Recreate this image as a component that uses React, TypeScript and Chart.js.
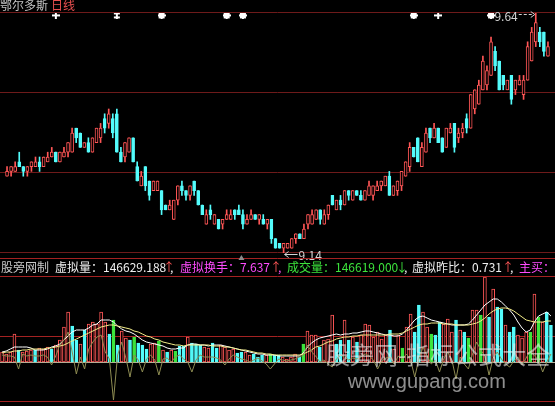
import React, { useEffect, useRef } from "react";
import { Chart, registerables } from "chart.js";

Chart.register(...registerables);

// ---- 鄂尔多斯 daily prices ----
const opens = [
  9.30, 9.31, 9.31, 9.33, 9.32, 9.31, 9.32, 9.32, 9.33, 9.32,
  9.33, 9.34, 9.35, 9.33, 9.34, 9.35, 9.35, 9.40, 9.39, 9.36,
  9.37, 9.35, 9.37, 9.38, 9.42, 9.41, 9.42, 9.43, 9.35, 9.34,
  9.35, 9.38, 9.32, 9.28, 9.32, 9.29, 9.27, 9.27, 9.27, 9.24,
  9.23, 9.21, 9.25, 9.28, 9.27, 9.26, 9.29, 9.27, 9.24, 9.20,
  9.23, 9.20, 9.21, 9.20, 9.21, 9.21, 9.23, 9.23, 9.22, 9.20,
  9.21, 9.22, 9.21, 9.21, 9.20, 9.21, 9.17, 9.16, 9.15, 9.15,
  9.15, 9.17, 9.18, 9.17, 9.20, 9.20, 9.21, 9.23, 9.20, 9.22,
  9.26, 9.23, 9.25, 9.24, 9.27, 9.25, 9.27, 9.26, 9.25, 9.26,
  9.26, 9.27, 9.28, 9.28, 9.30, 9.26, 9.27, 9.28, 9.30, 9.32,
  9.36, 9.38, 9.32, 9.35, 9.40, 9.38, 9.40, 9.38, 9.36, 9.39,
  9.41, 9.38, 9.39, 9.42, 9.40, 9.44, 9.45, 9.48, 9.49, 9.51,
  9.56, 9.54, 9.51, 9.48, 9.51, 9.48, 9.49, 9.47, 9.50, 9.54,
  9.58, 9.60, 9.60, 9.55,
];
const highs = [
  9.32, 9.32, 9.33, 9.35, 9.32, 9.32, 9.33, 9.34, 9.34, 9.34,
  9.35, 9.36, 9.35, 9.35, 9.36, 9.37, 9.40, 9.40, 9.39, 9.37,
  9.38, 9.38, 9.40, 9.41, 9.43, 9.44, 9.43, 9.44, 9.36, 9.37,
  9.38, 9.38, 9.33, 9.31, 9.32, 9.29, 9.29, 9.29, 9.27, 9.24,
  9.25, 9.25, 9.28, 9.29, 9.27, 9.28, 9.29, 9.27, 9.24, 9.23,
  9.24, 9.22, 9.21, 9.21, 9.23, 9.23, 9.23, 9.24, 9.23, 9.22,
  9.23, 9.22, 9.22, 9.22, 9.21, 9.21, 9.17, 9.16, 9.16, 9.16,
  9.17, 9.18, 9.18, 9.20, 9.22, 9.23, 9.23, 9.23, 9.23, 9.24,
  9.26, 9.25, 9.26, 9.27, 9.27, 9.27, 9.27, 9.27, 9.27, 9.29,
  9.28, 9.29, 9.29, 9.30, 9.31, 9.28, 9.29, 9.31, 9.33, 9.37,
  9.36, 9.38, 9.37, 9.40, 9.40, 9.41, 9.40, 9.38, 9.40, 9.41,
  9.41, 9.40, 9.41, 9.43, 9.47, 9.48, 9.50, 9.55, 9.53, 9.59,
  9.57, 9.54, 9.51, 9.50, 9.51, 9.50, 9.51, 9.51, 9.58, 9.61,
  9.64, 9.61, 9.60, 9.58,
];
const lows = [
  9.30, 9.30, 9.31, 9.32, 9.30, 9.30, 9.31, 9.32, 9.31, 9.32,
  9.33, 9.34, 9.33, 9.33, 9.34, 9.34, 9.35, 9.37, 9.36, 9.36,
  9.35, 9.35, 9.37, 9.37, 9.39, 9.40, 9.38, 9.35, 9.33, 9.33,
  9.35, 9.33, 9.29, 9.28, 9.27, 9.25, 9.27, 9.27, 9.22, 9.23,
  9.23, 9.21, 9.24, 9.26, 9.25, 9.25, 9.26, 9.24, 9.22, 9.20,
  9.21, 9.20, 9.19, 9.19, 9.21, 9.21, 9.21, 9.22, 9.19, 9.20,
  9.21, 9.21, 9.20, 9.20, 9.19, 9.16, 9.15, 9.15, 9.14, 9.15,
  9.15, 9.16, 9.17, 9.17, 9.19, 9.20, 9.21, 9.20, 9.20, 9.21,
  9.24, 9.23, 9.23, 9.24, 9.25, 9.25, 9.26, 9.25, 9.25, 9.26,
  9.25, 9.27, 9.27, 9.28, 9.26, 9.26, 9.26, 9.27, 9.30, 9.31,
  9.34, 9.33, 9.32, 9.35, 9.37, 9.38, 9.37, 9.35, 9.36, 9.39,
  9.35, 9.37, 9.38, 9.39, 9.40, 9.43, 9.45, 9.48, 9.48, 9.51,
  9.52, 9.48, 9.48, 9.48, 9.45, 9.47, 9.49, 9.46, 9.50, 9.54,
  9.57, 9.57, 9.55, 9.55,
];
const closes = [
  9.31, 9.32, 9.32, 9.32, 9.31, 9.32, 9.33, 9.33, 9.32, 9.34,
  9.34, 9.35, 9.33, 9.35, 9.35, 9.37, 9.39, 9.38, 9.36, 9.37,
  9.35, 9.38, 9.40, 9.40, 9.40, 9.43, 9.39, 9.35, 9.33, 9.37,
  9.38, 9.33, 9.29, 9.30, 9.28, 9.26, 9.29, 9.29, 9.23, 9.23,
  9.24, 9.25, 9.28, 9.27, 9.26, 9.28, 9.27, 9.24, 9.22, 9.22,
  9.22, 9.22, 9.19, 9.21, 9.22, 9.22, 9.22, 9.22, 9.20, 9.21,
  9.22, 9.21, 9.22, 9.20, 9.21, 9.17, 9.15, 9.15, 9.16, 9.16,
  9.17, 9.18, 9.17, 9.19, 9.22, 9.22, 9.23, 9.21, 9.22, 9.24,
  9.24, 9.25, 9.24, 9.27, 9.26, 9.27, 9.26, 9.25, 9.27, 9.28,
  9.28, 9.28, 9.29, 9.30, 9.26, 9.28, 9.29, 9.31, 9.33, 9.36,
  9.34, 9.33, 9.36, 9.39, 9.38, 9.40, 9.37, 9.35, 9.40, 9.40,
  9.36, 9.39, 9.40, 9.40, 9.47, 9.48, 9.49, 9.54, 9.52, 9.58,
  9.53, 9.48, 9.49, 9.50, 9.46, 9.50, 9.50, 9.50, 9.57, 9.60,
  9.62, 9.58, 9.56, 9.57,
];

const stockName = "鄂尔多斯";
const periodName = "日线";

// signal marks along the top of the price panel
const signalDays = [12, 27, 38, 54, 58, 100, 106, 119];
const signalKinds = ["plus", "bars", "star", "star", "star", "star", "plus", "star"];
const signalLevel = 9.635;
const cursorDay = 58;

// ---- indicator panel, thousands of lots ----
const virtualVolume = [
  40, 32, 40, 112, 48, 40, 44, 48, 48, 56,
  52, 60, 52, 68, 88, 140, 200, 144, 88, 72,
  128, 152, 160, 152, 200, 160, 112, 168, 68, 124,
  96, 88, 100, 76, 68, 52, 72, 76, 84, 48,
  40, 48, 44, 64, 64, 100, 76, 72, 68, 60,
  56, 76, 56, 68, 60, 48, 52, 36, 40, 40,
  28, 32, 20, 28, 28, 32, 28, 28, 20, 12,
  20, 32, 20, 72, 124, 108, 108, 60, 88, 92,
  188, 72, 88, 168, 88, 100, 80, 108, 152, 148,
  100, 120, 92, 108, 128, 52, 108, 56, 140, 192,
  120, 228, 200, 140, 112, 108, 160, 152, 172, 120,
  168, 128, 120, 96, 208, 208, 188, 340, 180, 292,
  220, 212, 148, 120, 140, 108, 96, 120, 120, 272,
  180, 160, 200, 146.629188,
];
// r = up (hollow red), c = down (cyan), g = green
const barKinds =
  "rrrrcrrrcr" + "rrcrrrrccr" + "crrrrrcgcr" + "rcgcccrrgr" + "crgccrcccr" +
  "rccrrrrccr" + "rcccrgccrr" + "rrcgrrrcrr" + "rccrcrcrrr" + "rrrrcrrgrr" +
  "ccrrgccrrr" + "crcgrrgrcr" + "ccrccrrrgr" + "grcc";
const fastAvg = [
  40, 44, 52, 60, 60, 60, 60, 56, 48, 48,
  48, 52, 60, 64, 72, 88, 104, 120, 128, 128,
  128, 136, 148, 152, 168, 168, 168, 160, 144, 132,
  124, 120, 112, 100, 88, 80, 76, 72, 68, 64,
  56, 52, 52, 56, 56, 68, 72, 72, 68, 68,
  64, 68, 68, 68, 64, 60, 56, 52, 48, 44,
  40, 36, 32, 32, 28, 28, 28, 24, 24, 24,
  24, 24, 24, 36, 60, 76, 88, 96, 100, 104,
  108, 112, 108, 112, 112, 116, 116, 120, 124, 124,
  120, 116, 112, 108, 108, 104, 104, 112, 128, 148,
  168, 180, 184, 176, 168, 164, 160, 156, 152, 148,
  148, 148, 148, 152, 168, 188, 208, 228, 240, 252,
  252, 240, 224, 208, 188, 160, 136, 120, 128, 160,
  184, 192, 200, 184,
];
const slowAvg = [
  36, 40, 40, 44, 44, 48, 48, 52, 52, 52,
  52, 56, 56, 60, 64, 68, 76, 84, 92, 100,
  108, 116, 124, 132, 140, 144, 148, 148, 144, 140,
  136, 132, 124, 120, 112, 104, 100, 92, 88, 80,
  76, 72, 68, 68, 64, 68, 68, 68, 68, 68,
  68, 64, 64, 64, 60, 60, 56, 52, 48, 48,
  44, 40, 36, 36, 32, 32, 28, 28, 28, 28,
  28, 28, 28, 32, 40, 48, 60, 64, 72, 80,
  84, 92, 96, 100, 100, 104, 104, 108, 108, 108,
  108, 108, 108, 108, 112, 112, 112, 116, 124, 132,
  140, 148, 152, 152, 156, 156, 156, 152, 152, 152,
  148, 148, 148, 148, 152, 156, 164, 176, 192, 204,
  212, 216, 216, 212, 204, 192, 180, 168, 164, 160,
  160, 160, 164, 164,
];
const mainBuy = [
  28, 24, 24, 20, -28, 32, 24, 28, 24, 24,
  28, 20, -12, 24, 68, 88, 120, 40, -48, 20,
  -28, 52, 80, 100, 108, 40, 12, -152, 28, 80,
  16, -60, 28, 8, -40, 12, 28, 8, -52, 12,
  16, 0, 20, 28, 12, 0, -40, 8, 28, 20,
  20, 20, 16, 8, -12, 12, 28, 20, 12, 8,
  0, 8, 16, 4, -8, -28, -8, 12, 8, 4,
  8, 12, 20, 28, 68, 40, 24, 0, 8, -8,
  -20, 12, 28, 20, 8, 16, 12, 20, 32, 24,
  8, -28, 4, 16, 20, -8, 24, 12, 32, 8,
  -60, 12, 60, 24, -8, 8, -40, 12, 40, 8,
  -68, 20, -8, -28, 32, 80, 48, 24, -52, 16,
  40, 12, -8, -20, 4, 20, -12, 16, 48, 24,
  8, -40, 0, 32,
];
const indicatorMin = -160;
const indicatorMax = 340;
const indicatorGrid = [-160, 100, 340];

const turnoverText = "7.637";
const tradeVolumeText = "146619.000";
const prevRatioText = "0.731";

const RED = "#ff5656";
const CYAN = "#54fcfc";
const GREEN = "#3ce43c";
const MAGENTA = "#ff4cff";
const WHITE = "#f0f0f0";
const CJK = "'Noto Sans CJK SC', 'Noto Sans', sans-serif";

const labels = opens.map((_, i) => String(i));

function markerImage(kind: string): HTMLCanvasElement {
  const c = document.createElement("canvas");
  c.width = 8;
  c.height = 8;
  const g = c.getContext("2d")!;
  g.fillStyle = "#ffffff";
  if (kind === "plus") {
    g.fillRect(3, 0, 2, 8);
    g.fillRect(0, 3, 8, 2);
  } else if (kind === "bars") {
    g.fillRect(3, 0, 2, 8);
    g.fillRect(1, 1, 6, 2);
    g.fillRect(1, 5, 6, 2);
  } else {
    g.fillRect(1, 1, 6, 6);
    g.fillRect(3, 0, 2, 8);
    g.fillRect(0, 3, 8, 2);
  }
  return c;
}

function hLine(ctx: CanvasRenderingContext2D, y: number, w: number) {
  ctx.beginPath();
  ctx.moveTo(0, y);
  ctx.lineTo(w, y);
  ctx.stroke();
}

const pricePanel = {
  id: "pricePanel",
  beforeDatasetsDraw(chart: any) {
    const { ctx, scales } = chart;
    const y = scales.y;
    ctx.save();
    ctx.strokeStyle = "#6e1a1a";
    ctx.lineWidth = 1;
    for (let k = 0; k <= 3; k++) {
      const v = y.min + ((y.max - y.min) * k) / 3;
      hLine(ctx, Math.round(y.getPixelForValue(v)) - 0.5, chart.width);
    }
    ctx.restore();
  },
  afterDatasetsDraw(chart: any) {
    const { ctx, scales } = chart;
    const x = scales.x;
    const y = scales.y;
    ctx.save();
    ctx.font = `12px ${CJK}`;
    ctx.textBaseline = "middle";
    ctx.fillStyle = "#c4c4c4";
    ctx.fillText(stockName, 0, 5);
    const nameW = ctx.measureText(stockName).width;
    ctx.fillStyle = "#e85050";
    ctx.fillText(periodName, nameW + 3, 5);

    let hi = 0;
    let lo = 0;
    highs.forEach((h, i) => { if (h > highs[hi]) hi = i; });
    lows.forEach((l, i) => { if (l < lows[lo]) lo = i; });

    ctx.strokeStyle = "#d4d4d4";
    ctx.fillStyle = "#d4d4d4";
    ctx.lineWidth = 1;

    // highest price, arrow pointing right to the candle
    const hx = x.getPixelForValue(hi);
    const hy = Math.round(y.getPixelForValue(highs[hi])) + 1.5;
    ctx.setLineDash([3, 2]);
    ctx.beginPath();
    ctx.moveTo(hx - 17, hy);
    ctx.lineTo(hx - 2, hy);
    ctx.stroke();
    ctx.setLineDash([]);
    ctx.beginPath();
    ctx.moveTo(hx - 5, hy - 3);
    ctx.lineTo(hx - 1, hy);
    ctx.lineTo(hx - 5, hy + 3);
    ctx.stroke();
    ctx.textAlign = "right";
    ctx.fillText(highs[hi].toFixed(2), hx - 18, hy + 2);

    // lowest price, arrow pointing left to the candle
    const lx = x.getPixelForValue(lo);
    const ly = Math.round(y.getPixelForValue(lows[lo])) + 1.5;
    ctx.beginPath();
    ctx.moveTo(lx + 1, ly);
    ctx.lineTo(lx + 14, ly);
    ctx.stroke();
    ctx.beginPath();
    ctx.moveTo(lx + 5, ly - 3);
    ctx.lineTo(lx + 1, ly);
    ctx.lineTo(lx + 5, ly + 3);
    ctx.stroke();
    ctx.textAlign = "left";
    ctx.fillText(lows[lo].toFixed(2), lx + 15, ly + 1);
    ctx.restore();
  },
};

const indicatorPanel = {
  id: "indicatorPanel",
  beforeDatasetsDraw(chart: any) {
    const { ctx, chartArea, scales } = chart;
    const y = scales.y;
    ctx.save();
    ctx.lineWidth = 1;
    ctx.strokeStyle = "#a42222";
    hLine(ctx, Math.round(chartArea.top - 18) - 0.5, chart.width);
    indicatorGrid.forEach((v) => hLine(ctx, Math.round(y.getPixelForValue(v)) - 0.5, chart.width));
    ctx.strokeStyle = "#b4b098";
    hLine(ctx, Math.round(y.getPixelForValue(0)) + 0.5, chart.width);
    ctx.restore();
  },
  afterDraw(chart: any) {
    const { ctx, scales } = chart;
    const x = scales.x;
    ctx.save();

    // cursor mark between the panels
    const cx = x.getPixelForValue(cursorDay);
    ctx.fillStyle = "#8c8c8c";
    ctx.beginPath();
    ctx.moveTo(cx, 2);
    ctx.lineTo(cx + 3, 7);
    ctx.lineTo(cx - 3, 7);
    ctx.closePath();
    ctx.fill();

    // indicator title line
    const last = virtualVolume[virtualVolume.length - 1];
    const volStr = (last * 1000).toFixed(3);
    const parts: [string, string, number][] = [
      ["股旁网制", "#c8c8c8", 1],
      ["虚拟量：", WHITE, 55],
      [volStr, WHITE, 103],
      ["↑", RED, 163],
      [",", WHITE, 170],
      ["虚拟换手：", MAGENTA, 180],
      [turnoverText, MAGENTA, 240],
      ["↑", RED, 270],
      [",", MAGENTA, 278],
      ["成交量：", GREEN, 287],
      [tradeVolumeText, GREEN, 335],
      ["↓", GREEN, 396],
      [",", WHITE, 404],
      ["虚拟昨比：", WHITE, 412],
      [prevRatioText, WHITE, 472],
      ["↑", RED, 502],
      [",", WHITE, 510],
      ["主买：", MAGENTA, 519],
    ];
    ctx.font = `12px ${CJK}`;
    ctx.textBaseline = "middle";
    parts.forEach(([t, c, px]) => {
      ctx.fillStyle = c;
      ctx.fillText(t, px, 14);
    });

    // site watermark
    ctx.fillStyle = "rgba(236,236,236,0.6)";
    ctx.font = `24px ${CJK}`;
    ctx.fillText("股旁网-指标公式大全", 326, 102);
    ctx.font = "20px 'Liberation Sans', sans-serif";
    ctx.fillText("www.gupang.com", 348, 129);
    ctx.restore();
  },
};

export default function App() {
  const topRef = useRef<HTMLCanvasElement>(null);
  const botRef = useRef<HTMLCanvasElement>(null);

  useEffect(() => {
    const up = closes.map((c, i) => c >= opens[i]);
    const markers: Record<string, HTMLCanvasElement> = {
      plus: markerImage("plus"),
      bars: markerImage("bars"),
      star: markerImage("star"),
    };
    const signalSeries = labels.map((_, i) => (signalDays.includes(i) ? signalLevel : null));

    const priceChart = new Chart(topRef.current!, {
      type: "bar",
      data: {
        labels,
        datasets: [
          {
            type: "line",
            data: signalSeries,
            showLine: false,
            pointRadius: 3,
            pointStyle: (c: any) => {
              const k = signalDays.indexOf(c.dataIndex);
              return markers[signalKinds[k >= 0 ? k : 0]];
            },
            order: 0,
          } as any,
          {
            data: opens.map((o, i) => [o, closes[i]]),
            backgroundColor: up.map((u) => (u ? "#000000" : CYAN)),
            borderColor: up.map((u) => (u ? RED : CYAN)),
            borderWidth: 1,
            borderSkipped: false,
            barThickness: 3,
            grouped: false,
            order: 1,
          } as any,
          {
            data: lows.map((l, i) => [l, highs[i]]),
            backgroundColor: up.map((u) => (u ? RED : CYAN)),
            borderWidth: 0,
            barThickness: 1,
            grouped: false,
            order: 2,
          } as any,
        ],
      },
      options: {
        animation: false,
        responsive: false,
        devicePixelRatio: 1,
        events: [],
        layout: { padding: { top: 13, bottom: 9, left: 0, right: 2 } },
        scales: {
          x: { type: "category", display: false, offset: true },
          y: { type: "linear", display: false, min: 9.14, max: 9.64 },
        },
        plugins: { legend: { display: false }, tooltip: { enabled: false } },
      },
      plugins: [pricePanel],
    });

    const kinds = barKinds.split("");
    const fill = kinds.map((k) => (k === "r" ? "#000000" : k === "g" ? GREEN : CYAN));
    const edge = kinds.map((k) => (k === "r" ? RED : k === "g" ? GREEN : CYAN));

    const indicatorChart = new Chart(botRef.current!, {
      type: "bar",
      data: {
        labels,
        datasets: [
          {
            type: "line",
            data: mainBuy,
            borderColor: "#8e8c52",
            borderWidth: 1,
            pointRadius: 0,
            tension: 0,
            order: 0,
          } as any,
          {
            type: "line",
            data: slowAvg,
            borderColor: "#f4ee8a",
            borderWidth: 1,
            pointRadius: 0,
            tension: 0,
            order: 0,
          } as any,
          {
            type: "line",
            data: fastAvg,
            borderColor: "#ffffff",
            borderWidth: 1,
            pointRadius: 0,
            tension: 0,
            order: 0,
          } as any,
          {
            data: virtualVolume,
            backgroundColor: fill,
            borderColor: edge,
            borderWidth: 1,
            borderSkipped: false,
            barThickness: 3,
            order: 1,
          } as any,
        ],
      },
      options: {
        animation: false,
        responsive: false,
        devicePixelRatio: 1,
        events: [],
        layout: { padding: { top: 24, bottom: 4, left: 0, right: 2 } },
        scales: {
          x: { type: "category", display: false, offset: true },
          y: { type: "linear", display: false, min: indicatorMin, max: indicatorMax },
        },
        plugins: { legend: { display: false }, tooltip: { enabled: false } },
      },
      plugins: [indicatorPanel],
    });

    return () => {
      priceChart.destroy();
      indicatorChart.destroy();
    };
  }, []);

  return (
    <div
      style={{
        position: "fixed",
        left: 0,
        top: 0,
        width: 555,
        height: 406,
        background: "#000",
        overflow: "hidden",
      }}
    >
      <canvas ref={topRef} width={555} height={262} style={{ position: "absolute", left: 0, top: 0 }} />
      <canvas ref={botRef} width={555} height={153} style={{ position: "absolute", left: 0, top: 253 }} />
    </div>
  );
}
